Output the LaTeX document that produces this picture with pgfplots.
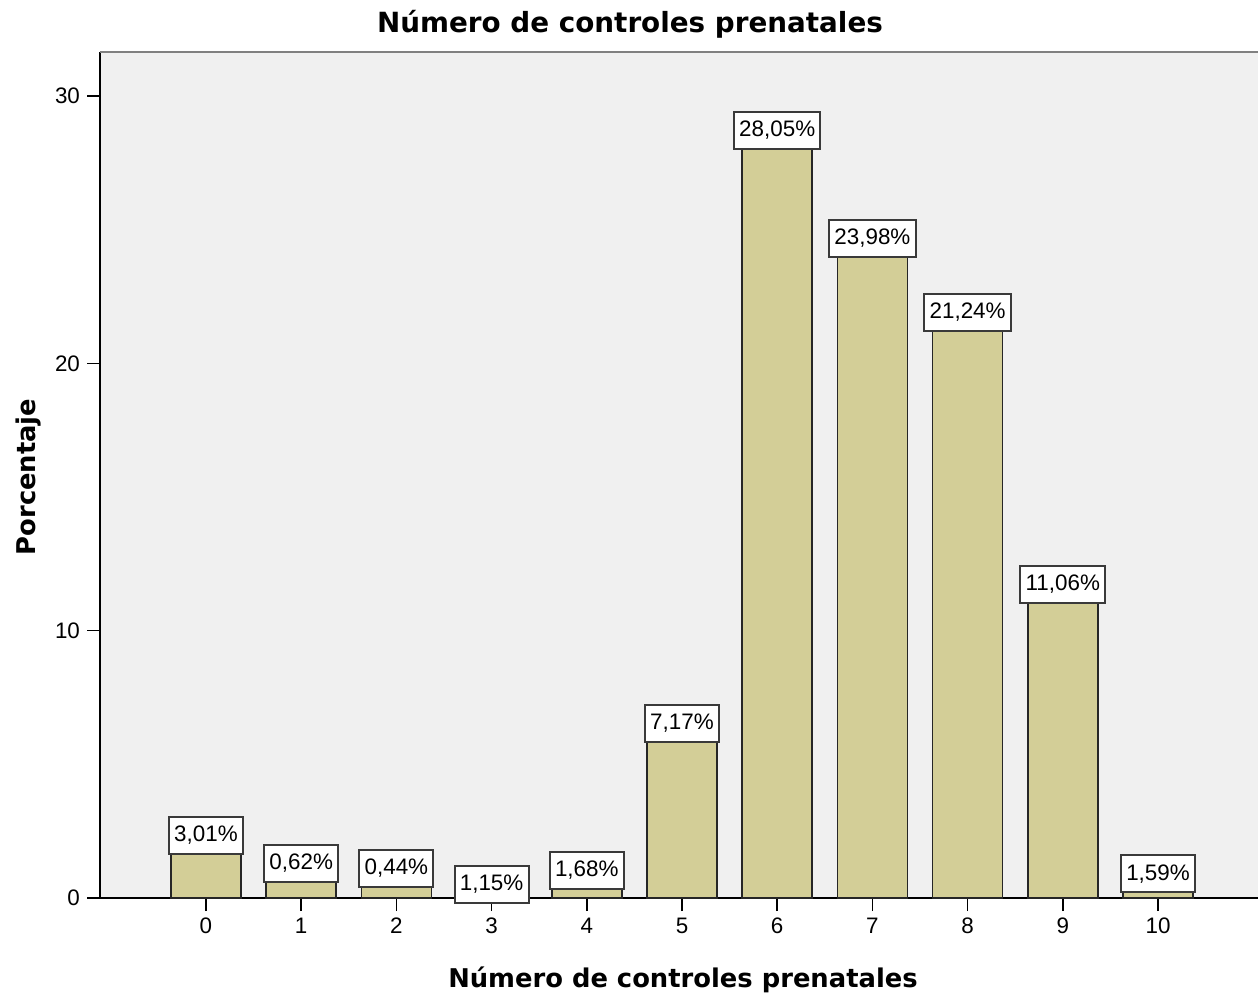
\documentclass[border=0pt]{standalone}
\usepackage{fontspec}
\setmainfont{Liberation Sans}
\newfontfamily\titlefont{DejaVu Sans}
\usepackage{pgfplots}
\usepackage{pgfplotstable}
\pgfplotsset{compat=1.18}

\definecolor{panel}{HTML}{F0F0F0}
\definecolor{barfill}{HTML}{D3CE97}
\definecolor{boxline}{HTML}{3A3A3A}

% x = controles, h = drawn bar height, lab = printed percentage
\pgfplotstableread{
x  h      lab
0  1.66   3,01
1  0.60   0,62
2  0.42   0,44
3  -0.19  1,15
4  0.34   1,68
5  5.84   7,17
6  28.03  28,05
7  23.98  23,98
8  21.22  21,24
9  11.04  11,06
10 0.22   1,59
}\controles

\begin{document}
\begin{tikzpicture}
\useasboundingbox (0,0) rectangle (629pt,496pt);
\begin{axis}[
  at={(50pt,47pt)}, anchor=south west,
  scale only axis,
  width=579pt, height=423pt,
  clip=false,
  axis background/.style={fill=panel},
  axis x line*=bottom, axis y line*=left,
  axis line style={black, line width=0.75pt},
  xmin=-1.113, xmax=11.05,
  ymin=0, ymax=31.65,
  xtick={0,...,10}, ytick={0,10,20,30},
  tick align=outside,
  major tick length=6.5pt,
  tick style={black, line width=0.75pt},
  ticklabel style={font=\fontsize{11.2}{13}\selectfont},
  /pgf/number format/assume math mode=true,
]
\draw[gray, line width=1.2pt] (rel axis cs:0,1) -- (rel axis cs:1,1);
\addplot[ybar, bar width=35pt, bar shift=0pt,
  fill=barfill, draw=black!85, line width=0.8pt]
  table[x=x, y=h] {\controles};
\addplot[draw=none, mark=none,
  point meta=explicit symbolic,
  nodes near coords={\pgfplotspointmeta\%},
  every node near coord/.append style={anchor=center, yshift=9.25pt,
    draw=boxline, line width=1pt, fill=white, text=black,
    minimum height=18.5pt, inner xsep=2.6pt, inner ysep=0pt,
    font=\fontsize{11.2}{13}\selectfont}]
  table[x=x, y=h, meta=lab] {\controles};
\end{axis}
\node[anchor=base, font=\titlefont\bfseries\fontsize{13.9}{16}\selectfont]
  at (315pt,479.5pt) {Número de controles prenatales};
\node[anchor=base, font=\titlefont\bfseries\fontsize{12.9}{15}\selectfont]
  at (341.5pt,2.5pt) {Número de controles prenatales};
\node[anchor=base, rotate=90, font=\titlefont\bfseries\fontsize{12.9}{15}\selectfont]
  at (17.5pt,257.5pt) {Porcentaje};
\end{tikzpicture}
\end{document}
